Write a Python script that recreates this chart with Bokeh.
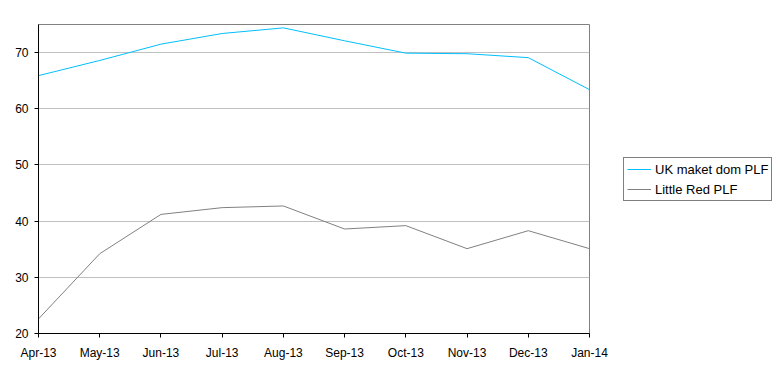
from bokeh.plotting import figure
from bokeh.models import Range1d, FixedTicker, Legend, LegendItem
from bokeh.embed import file_html
from bokeh.resources import INLINE

months = ["Apr-13", "May-13", "Jun-13", "Jul-13", "Aug-13", "Sep-13", "Oct-13", "Nov-13", "Dec-13", "Jan-14"]
uk_plf = [65.9, 68.6, 71.5, 73.4, 74.4, 72.1, 69.9, 69.8, 69.1, 63.4]
little_red_plf = [22.6, 34.2, 41.2, 42.4, 42.7, 38.6, 39.2, 35.1, 38.3, 35.1]
y_ticks = [20, 30, 40, 50, 60, 70]

xs = list(range(len(months)))

p = figure(frame_width=551, frame_height=309, output_backend="svg", toolbar_location=None,
           x_range=Range1d(0, len(months) - 1), y_range=Range1d(20, 75),
           min_border_left=38, min_border_right=0, min_border_top=24, min_border_bottom=36)

p.background_fill_color = "white"
p.border_fill_color = "white"
p.outline_line_color = "#808080"
p.outline_line_width = 1

r1 = p.line(xs, uk_plf, line_color="#00bfff", line_width=1)
r2 = p.line(xs, little_red_plf, line_color="#808080", line_width=1)

p.xaxis.ticker = FixedTicker(ticks=xs)
p.xaxis.major_label_overrides = {i: m for i, m in enumerate(months)}
p.yaxis.ticker = FixedTicker(ticks=y_ticks)

for ax in (p.xaxis[0], p.yaxis[0]):
    ax.axis_line_color = "black"
    ax.axis_line_width = 1
    ax.major_tick_line_color = "black"
    ax.major_tick_out = 4
    ax.major_tick_in = 0
    ax.minor_tick_line_color = None
    ax.major_label_text_font = "Liberation Sans"
    ax.major_label_text_font_size = "12px"
    ax.major_label_text_color = "black"
    ax.major_label_standoff = 6
p.xaxis[0].major_label_standoff = 8

p.xgrid.grid_line_color = None
p.ygrid.grid_line_color = "#c0c0c0"
p.ygrid.grid_line_width = 1

legend = Legend(items=[LegendItem(label="UK maket dom PLF", renderers=[r1]),
                       LegendItem(label="Little Red PLF", renderers=[r2])],
                location=(34, 132))
legend.border_line_color = "black"
legend.border_line_width = 1
legend.label_text_font = "Liberation Sans"
legend.label_text_font_size = "13px"
legend.label_text_color = "black"
legend.glyph_width = 24
legend.glyph_height = 16
legend.label_height = 16
legend.spacing = 4
legend.padding = 3
legend.margin = 0
legend.label_standoff = 4
legend.background_fill_alpha = 1
p.add_layout(legend, "right")

open("out.html", "w").write(file_html(p, INLINE))
